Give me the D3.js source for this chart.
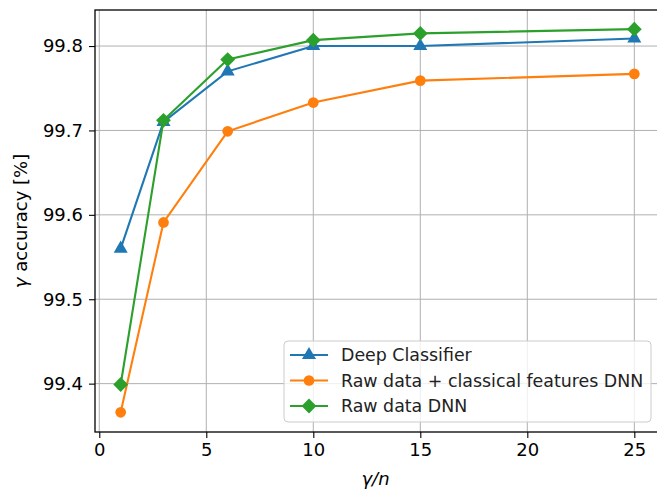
<!DOCTYPE html>
<html>
<head>
<meta charset="utf-8">
<script src="https://cdn.jsdelivr.net/npm/d3@7"></script>
<style>
  body { margin: 0; background: #fff; }
  svg { font-family: "DejaVu Sans", sans-serif; }
</style>
</head>
<body>
<div id="chart"></div>
<script>
// data
const ratios = [1, 3, 6, 10, 15, 25];
const deepClassifier = [99.56, 99.71, 99.77, 99.80, 99.80, 99.809];
const rawClassicalDNN = [99.366, 99.591, 99.699, 99.733, 99.759, 99.767];
const rawDNN = [99.399, 99.712, 99.784, 99.807, 99.815, 99.82];
const seriesNames = ["Deep Classifier", "Raw data + classical features DNN", "Raw data DNN"];
const xTicks = [0, 5, 10, 15, 20, 25];
const yTicks = [99.4, 99.5, 99.6, 99.7, 99.8];

const width = 657, height = 490;
const plot = { left: 95, top: 10, right: 660, bottom: 432 };

const svg = d3.select("#chart").append("svg")
  .attr("width", width).attr("height", height);

const x = d3.scaleLinear().domain([-0.2, 26.2]).range([plot.left, plot.right]);
const y = d3.scaleLinear().domain([99.3427, 99.8427]).range([plot.bottom, plot.top]);

// grid
svg.append("g").selectAll("line").data(xTicks).join("line")
  .attr("x1", d => x(d)).attr("x2", d => x(d))
  .attr("y1", plot.top).attr("y2", plot.bottom)
  .attr("stroke", "#b0b0b0").attr("stroke-width", 1);
svg.append("g").selectAll("line").data(yTicks).join("line")
  .attr("x1", plot.left).attr("x2", plot.right)
  .attr("y1", d => y(d)).attr("y2", d => y(d))
  .attr("stroke", "#b0b0b0").attr("stroke-width", 1);

// axes
const xAxis = svg.append("g")
  .attr("transform", `translate(0,${plot.bottom})`)
  .call(d3.axisBottom(x).tickValues(xTicks).tickFormat(d3.format("d")).tickSize(6).tickPadding(5).tickSizeOuter(0));
const yAxis = svg.append("g")
  .attr("transform", `translate(${plot.left},0)`)
  .call(d3.axisLeft(y).tickValues(yTicks).tickFormat(d3.format(".1f")).tickSize(6).tickPadding(6).tickSizeOuter(0));

[xAxis, yAxis].forEach(a => {
  a.select(".domain").remove();
  a.selectAll("text").attr("font-family", "DejaVu Sans").attr("font-size", 18).attr("fill", "#000");
  a.selectAll(".tick line").attr("stroke", "#000").attr("stroke-width", 1.1);
});

// spines
svg.append("rect")
  .attr("x", plot.left).attr("y", plot.top)
  .attr("width", plot.right - plot.left).attr("height", plot.bottom - plot.top)
  .attr("fill", "none").attr("stroke", "#000").attr("stroke-width", 1.3);

const colors = ["#1f77b4", "#ff7f0e", "#2ca02c"];
const shapes = [
  d3.symbol().type(d3.symbolTriangle).size(85),
  d3.symbol().type(d3.symbolCircle).size(90),
  d3.symbol().type(d3.symbolDiamond2).size(140)
];
const allSeries = [deepClassifier, rawClassicalDNN, rawDNN];

const line = d3.line().x((d, i) => x(ratios[i])).y(d => y(d));

allSeries.forEach((vals, k) => {
  const g = svg.append("g");
  g.append("path").datum(vals)
    .attr("d", line).attr("fill", "none")
    .attr("stroke", colors[k]).attr("stroke-width", 2.1);
  g.selectAll("path.m").data(vals).join("path").attr("class", "m")
    .attr("transform", (d, i) => `translate(${x(ratios[i])},${y(d)})`)
    .attr("d", shapes[k]())
    .attr("fill", colors[k]);
});

// axis labels
svg.append("text")
  .attr("x", (plot.left + plot.right) / 2 - 2).attr("y", 485)
  .attr("text-anchor", "middle").attr("font-size", 18)
  .attr("font-style", "italic")
  .text("γ/n");
svg.append("text")
  .attr("transform", `translate(27,${(plot.top + plot.bottom) / 2}) rotate(-90)`)
  .attr("text-anchor", "middle").attr("font-size", 18)
  .html('<tspan font-style="italic">γ</tspan> accuracy [%]');

// legend
const leg = svg.append("g").attr("transform", "translate(284,341)");
leg.append("rect")
  .attr("width", 367).attr("height", 81).attr("rx", 4)
  .attr("fill", "#fff").attr("fill-opacity", 0.8)
  .attr("stroke", "#cccccc").attr("stroke-width", 1);
seriesNames.forEach((name, k) => {
  const cy = 14 + k * 25.5;
  leg.append("line")
    .attr("x1", 6).attr("x2", 44).attr("y1", cy).attr("y2", cy)
    .attr("stroke", colors[k]).attr("stroke-width", 2.1);
  leg.append("path")
    .attr("transform", `translate(25,${cy})`)
    .attr("d", shapes[k]()).attr("fill", colors[k]);
  leg.append("text")
    .attr("x", 57).attr("y", cy + 6)
    .attr("font-size", 17.4).attr("fill", "#222")
    .text(name);
});
</script>
</body>
</html>
